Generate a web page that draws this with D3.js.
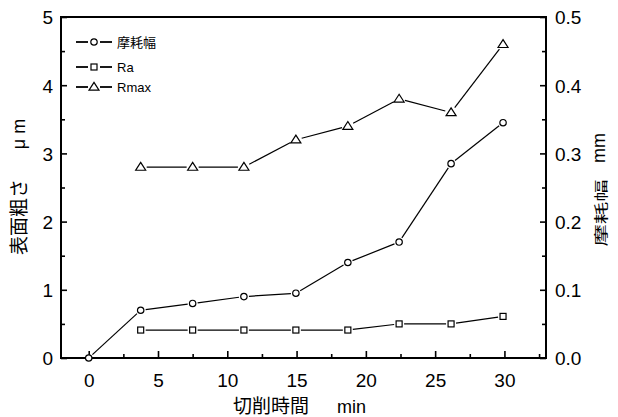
<!DOCTYPE html>
<html>
<head>
<meta charset="utf-8">
<script src="https://cdn.jsdelivr.net/npm/d3@7"></script>
<style>
  body { margin: 0; background: #fff; }
  text { font-family: "Liberation Sans", Arial, "Noto Sans CJK JP", sans-serif; fill: #000; }
  .jp { font-family: "Noto Sans CJK JP", sans-serif; }
</style>
</head>
<body>
<div id="chart"></div>
<script>
// cutting time (min)
var time = [0, 3.75, 7.5, 11.2, 14.95, 18.7, 22.4, 26.15, 29.9];
// wear width (mm, right axis)
var wear = [0, 0.07, 0.08, 0.09, 0.095, 0.14, 0.17, 0.285, 0.345];
// surface roughness (um, left axis), from the 2nd time point on
var raTime = time.slice(1);
var ra = [0.41, 0.41, 0.41, 0.41, 0.41, 0.5, 0.5, 0.61];
var rmax = [2.8, 2.8, 2.8, 3.2, 3.4, 3.8, 3.6, 4.6];

var xTicks = [0, 5, 10, 15, 20, 25, 30];
var yTicks = [0, 1, 2, 3, 4, 5];
var y2Ticks = [0, 0.1, 0.2, 0.3, 0.4, 0.5];
var legendLabels = ["摩耗幅", "Ra", "Rmax"];

var svgWidth = 618, svgHeight = 417;
var margin = { top: 17, right: 72, bottom: 59, left: 61 };
var width = svgWidth - margin.left - margin.right;
var height = svgHeight - margin.top - margin.bottom;

var svg = d3.select("#chart").append("svg")
  .attr("width", svgWidth)
  .attr("height", svgHeight);

var g = svg.append("g")
  .attr("transform", `translate(${margin.left}, ${margin.top})`);

var x = d3.scaleLinear().domain([-2, 33]).range([0, width]);
var y = d3.scaleLinear().domain([0, 5]).range([height, 0]);
var y2 = d3.scaleLinear().domain([0, 0.5]).range([height, 0]);

// axes (ticks pointing inward)
function styleAxis(sel) {
  sel.select(".domain").remove();
  sel.selectAll("line").attr("stroke", "#000").attr("stroke-width", 1.6);
  sel.selectAll("text").style("font-size", "19px");
}

// minor ticks
g.append("g").attr("transform", `translate(0, ${height})`)
  .call(d3.axisTop(x).tickValues(d3.range(-0, 33, 2.5).filter(v => v % 5 != 0)).tickSize(4).tickFormat(""))
  .call(styleAxis);
g.append("g")
  .call(d3.axisRight(y).tickValues(d3.range(0.5, 5, 1)).tickSize(4).tickFormat(""))
  .call(styleAxis);
g.append("g").attr("transform", `translate(${width}, 0)`)
  .call(d3.axisLeft(y2).tickValues(d3.range(0.05, 0.5, 0.1)).tickSize(4).tickFormat(""))
  .call(styleAxis);

// major ticks
var xAxis = g.append("g").attr("transform", `translate(0, ${height})`)
  .call(d3.axisTop(x).tickValues(xTicks).tickSize(7).tickFormat(d3.format("d")))
  .call(styleAxis);
xAxis.selectAll("text").attr("y", 29).attr("dy", 0);

var yAxis = g.append("g")
  .call(d3.axisRight(y).tickValues(yTicks).tickSize(6).tickFormat(d3.format("d")))
  .call(styleAxis);
yAxis.selectAll("text").attr("x", -8).attr("dy", "0.36em").attr("text-anchor", "end");

var y2Axis = g.append("g").attr("transform", `translate(${width}, 0)`)
  .call(d3.axisLeft(y2).tickValues(y2Ticks).tickSize(6).tickFormat(d3.format(".1f")))
  .call(styleAxis);
y2Axis.selectAll("text").attr("x", 9).attr("dy", "0.36em").attr("text-anchor", "start");

// frame
g.append("rect")
  .attr("width", width).attr("height", height)
  .attr("fill", "none").attr("stroke", "#000").attr("stroke-width", 2);

// markers
function marker(sel, type) {
  if (type == "circle") {
    sel.append("circle").attr("r", 3.2);
  } else if (type == "square") {
    sel.append("rect").attr("x", -3).attr("y", -3).attr("width", 6).attr("height", 6);
  } else {
    sel.append("path").attr("d", "M0,-4.6L5,3.2L-5,3.2Z");
  }
  sel.selectAll("*").attr("fill", "#fff").attr("stroke", "#000").attr("stroke-width", 1.2);
}

// segments with small gaps at the markers
function drawSeries(pts, type, gap) {
  for (var i = 0; i < pts.length - 1; i++) {
    var a = pts[i], b = pts[i + 1];
    var dx = b[0] - a[0], dy = b[1] - a[1];
    var len = Math.sqrt(dx * dx + dy * dy);
    var ux = dx / len, uy = dy / len;
    g.append("line")
      .attr("x1", a[0] + ux * gap).attr("y1", a[1] + uy * gap)
      .attr("x2", b[0] - ux * gap).attr("y2", b[1] - uy * gap)
      .attr("stroke", "#000").attr("stroke-width", 1.2);
  }
  pts.forEach(function(p) {
    g.append("g").attr("transform", `translate(${p[0]}, ${p[1]})`).call(marker, type);
  });
}

drawSeries(time.map((t, i) => [x(t), y2(wear[i])]), "circle", 5);
drawSeries(raTime.map((t, i) => [x(t), y(ra[i])]), "square", 5);
drawSeries(raTime.map((t, i) => [x(t), y(rmax[i])]), "triangle", 6);

// legend
var legendTypes = ["circle", "square", "triangle"];
var legendY = [25, 50, 70];
legendLabels.forEach(function(label, i) {
  var lg = g.append("g").attr("transform", `translate(15, ${legendY[i]})`);
  lg.append("line").attr("x1", 0).attr("x2", 12).attr("stroke", "#000").attr("stroke-width", 1.8);
  lg.append("line").attr("x1", 24).attr("x2", 36).attr("stroke", "#000").attr("stroke-width", 1.8);
  lg.append("g").attr("transform", "translate(18, 0)").call(marker, legendTypes[i]);
  lg.append("text")
    .attr("class", i == 0 ? "jp" : null)
    .attr("x", 41).attr("dy", "0.36em")
    .style("font-size", "13px")
    .text(label);
});

// axis titles
svg.append("text")
  .attr("transform", "translate(26, 217) rotate(-90)")
  .attr("text-anchor", "middle")
  .attr("class", "jp")
  .style("font-size", "19px")
  .text("表面粗さ");
svg.append("text")
  .attr("transform", "translate(25, 134) rotate(-90)")
  .attr("text-anchor", "middle")
  .style("font-size", "18px")
  .text("μ m");

svg.append("text")
  .attr("transform", "translate(606, 213) rotate(-90) scale(1.6, 1)")
  .attr("text-anchor", "middle")
  .attr("class", "jp")
  .style("font-size", "14px")
  .text("摩耗幅");
svg.append("text")
  .attr("transform", "translate(605, 148) rotate(-90)")
  .attr("text-anchor", "middle")
  .style("font-size", "18px")
  .text("mm");

svg.append("text")
  .attr("x", 233).attr("y", 413)
  .attr("class", "jp")
  .style("font-size", "19px")
  .text("切削時間");
svg.append("text")
  .attr("x", 337).attr("y", 413)
  .style("font-size", "18px")
  .text("min");
</script>
</body>
</html>
